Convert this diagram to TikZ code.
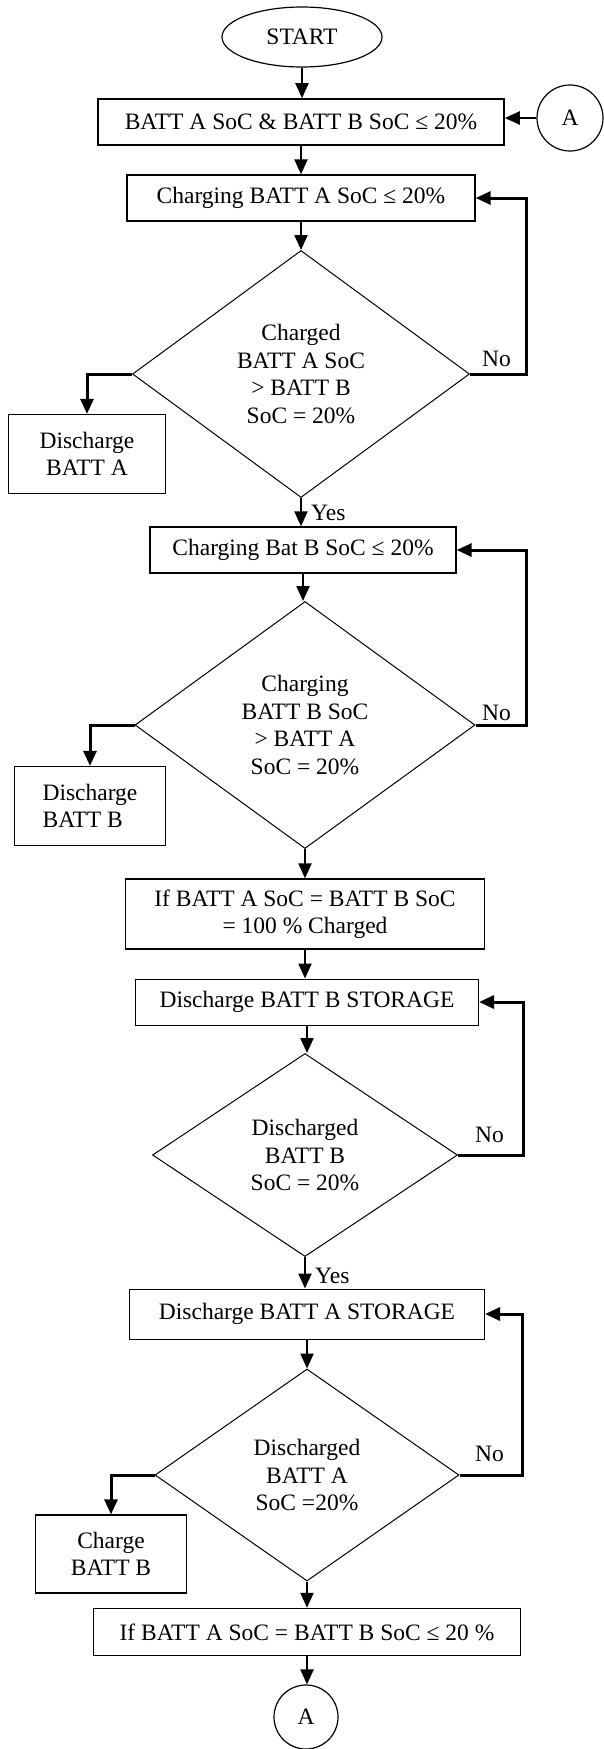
\documentclass[tikz,border=0pt]{standalone}
\usepackage{fontspec}
\setmainfont{Liberation Serif}
\usetikzlibrary{shapes.geometric,arrows.meta}
\begin{document}
\begin{tikzpicture}[x=1pt,y=-1pt,
  font=\fontsize{23.5}{27.5}\selectfont,
  box/.style={draw, line width=1.3pt, inner sep=0pt, align=center},
  dia/.style={draw, diamond, line width=1pt, inner sep=0pt, align=center},
  arr/.style={line width=2.2pt, -{Triangle[length=15pt,width=13pt]}},
  looparr/.style={line width=3pt, -{Triangle[length=15pt,width=13pt]}},
  lab/.style={inner sep=0pt, anchor=base west}]
\useasboundingbox (0,0) rectangle (603,1749);

% nodes
\node[draw, ellipse, line width=1.2pt, minimum width=160pt, minimum height=60pt, inner sep=0pt] (start) at (302,37) {START};
\node[box, line width=1.6pt, minimum width=406pt, minimum height=46pt] (b1) at (301,122) {BATT A SoC \& BATT B SoC ≤ 20\%};
\node[draw, circle, line width=1.2pt, minimum size=66pt, inner sep=0pt] (cA1) at (570,118) {A};
\node[box, minimum width=348pt, minimum height=46pt] (b2) at (301,198) {Charging BATT A SoC ≤ 20\%};
\node[dia, minimum width=337pt, minimum height=247pt] (d1) at (301,374) {Charged\\BATT A SoC\\> BATT B\\SoC = 20\%};
\node[box, minimum width=157pt, minimum height=79pt] (dA) at (87,454) {Discharge\\BATT A};
\node[box, minimum width=306pt, minimum height=46pt] (b3) at (303,550) {Charging Bat B SoC ≤ 20\%};
\node[dia, minimum width=340pt, minimum height=247pt] (d2) at (305,725) {Charging\\BATT B SoC\\> BATT A\\SoC = 20\%};
\node[box, minimum width=151pt, minimum height=79pt, align=left] (dB) at (90,806) {Discharge\\BATT B};
\node[box, minimum width=359pt, minimum height=70pt] (b4) at (305,914) {If BATT A SoC = BATT B SoC\\= 100 \% Charged};
\node[box, line width=1pt, minimum width=343pt, minimum height=46pt] (b5) at (307,1002) {Discharge BATT B STORAGE};
\node[dia, minimum width=305pt, minimum height=203pt] (d3) at (305,1155) {Discharged\\BATT B\\SoC = 20\%};
\node[box, line width=1pt, minimum width=355pt, minimum height=50pt] (b6) at (307,1314) {Discharge BATT A STORAGE};
\node[dia, minimum width=304pt, minimum height=212pt] (d4) at (307,1475) {Discharged\\BATT A\\SoC =20\%};
\node[box, minimum width=151pt, minimum height=78pt] (cB) at (111,1554) {Charge\\BATT B};
\node[box, line width=1.5pt, minimum width=427pt, minimum height=47pt] (b7) at (307,1632) {If BATT A SoC = BATT B SoC ≤ 20 \%};
\node[draw, circle, line width=1.2pt, minimum size=64pt, inner sep=0pt] (cA2) at (306,1717) {A};

% right-hand return columns
\coordinate (r1) at (526,0);
\coordinate (r3) at (523,0);
\coordinate (r4) at (522,0);

% connectors
\draw[arr] (start.south) -- (start.south |- b1.north);
\draw[arr] (cA1.west) -- (cA1.west -| b1.east);
\draw[arr] (b1.south) -- (b1.south |- b2.north);
\draw[arr] (b2.south) -- (b2.south |- d1.north);
\draw[looparr] (d1.east) -- (d1.east -| r1) |- (b2.east);
\draw[looparr] (d1.west) -| (dA.north);
\draw[arr] (d1.south) -- (d1.south |- b3.north);
\draw[arr] (b3.south) -- (b3.south |- d2.north);
\draw[looparr] (d2.east) -- (d2.east -| r1) |- (b3.east);
\draw[looparr] (d2.west) -| (dB.north);
\draw[arr] (d2.south) -- (d2.south |- b4.north);
\draw[arr] (b4.south) -- (b4.south |- b5.north);
\draw[arr] (b5.south) -- (b5.south |- d3.north);
\draw[looparr] (d3.east) -- (d3.east -| r3) |- (b5.east);
\draw[arr] (d3.south) -- (d3.south |- b6.north);
\draw[arr] (b6.south) -- (b6.south |- d4.north);
\draw[looparr] (d4.east) -- (d4.east -| r4) |- (b6.east);
\draw[looparr] (d4.west) -| (cB.north);
\draw[arr] (d4.south) -- (d4.south |- b7.north);
\draw[arr] (b7.south) -- (b7.south |- cA2.north);

% labels
\node[lab] (no1) at (482,366) {No};
\node[lab] (no2) at (482,720) {No};
\node[lab] (no3) at (475,1142) {No};
\node[lab] (no4) at (475,1461) {No};
\node[lab] (yes1) at (311,520) {Yes};
\node[lab] (yes3) at (315,1283) {Yes};
\end{tikzpicture}
\end{document}
